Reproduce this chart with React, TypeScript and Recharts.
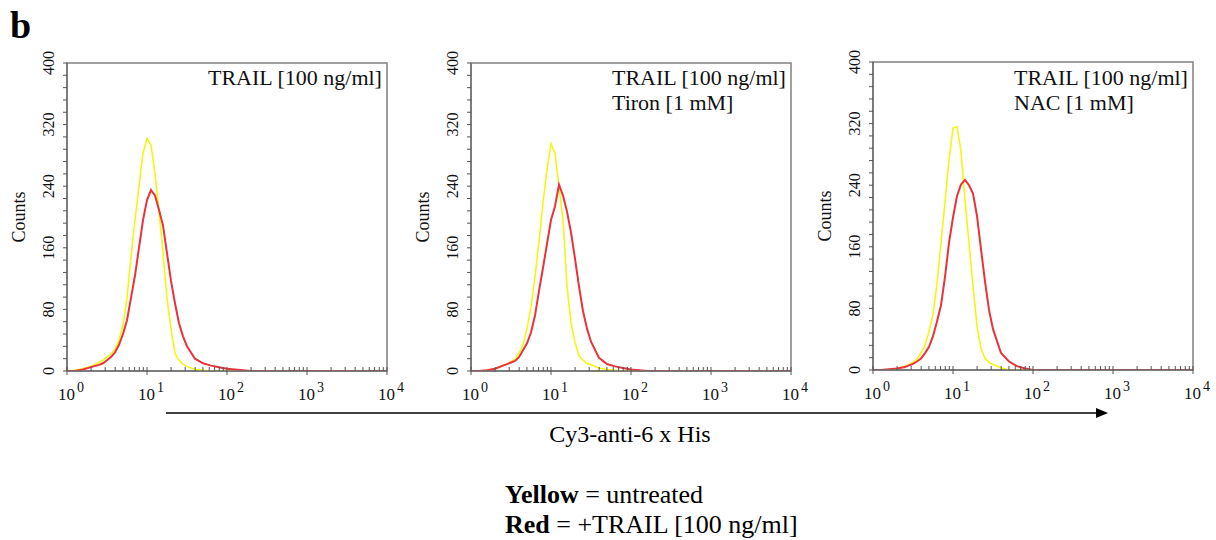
import { LineChart, Line, XAxis, YAxis, ReferenceArea } from "recharts";

// fluorescence channel, in decades (10^0 .. 10^4)
const logFluor = [
  0, 0.1, 0.2, 0.3, 0.4, 0.45, 0.5, 0.55, 0.6, 0.65, 0.7, 0.75, 0.8, 0.85, 0.9, 0.95, 1.0, 1.05,
  1.1, 1.15, 1.2, 1.25, 1.3, 1.35, 1.4, 1.45, 1.5, 1.6, 1.7, 1.8, 1.9, 2.0, 2.1, 2.2, 2.3, 4.0,
];

// panel 1: TRAIL
const untreated1 = [
  0, 1, 3, 6, 11, 14, 18, 22, 28, 40, 60, 95, 148, 196, 239, 283, 302, 293,
  256, 207, 153, 94, 55, 23, 14, 9, 6, 2, 1, 0, 0, 0, 0, 0, 0, 0,
];
const trail1 = [
  0, 0, 2, 5, 8, 10, 14, 18, 24, 34, 48, 66, 95, 124, 160, 196, 222, 235,
  228, 209, 189, 153, 117, 88, 62, 45, 32, 16, 10, 7, 5, 3, 2, 1, 0, 0,
];

// panel 2: TRAIL + Tiron
const untreated2 = [
  0, 0, 1, 3, 7, 9, 12, 15, 23, 34, 55, 83, 122, 168, 218, 262, 295, 283,
  239, 196, 110, 62, 37, 20, 14, 10, 8, 4, 2, 1, 0, 0, 0, 0, 0, 0,
];
const trail2 = [
  0, 0, 1, 3, 7, 9, 11, 13, 18, 27, 36, 50, 72, 104, 134, 165, 196, 214,
  242, 228, 207, 180, 146, 110, 78, 55, 38, 17, 9, 6, 4, 2, 1, 0, 0, 0,
];

// panel 3: TRAIL + NAC
const untreated3 = [
  0, 0, 0, 2, 5, 7, 10, 14, 22, 32, 50, 72, 112, 165, 218, 273, 314, 316,
  284, 220, 165, 110, 57, 28, 15, 10, 7, 3, 0, 0, 0, 0, 0, 0, 0, 0,
];
const trail3 = [
  0, 0, 1, 2, 4, 6, 8, 11, 15, 22, 30, 44, 63, 84, 121, 165, 198, 226,
  241, 247, 240, 229, 200, 157, 115, 78, 53, 22, 11, 5, 2, 0, 0, 0, 0, 0,
];

const panelNotes = [
  ["TRAIL [100 ng/ml]"],
  ["TRAIL [100 ng/ml]", "Tiron [1 mM]"],
  ["TRAIL [100 ng/ml]", "NAC [1 mM]"],
];
const decades = [0, 1, 2, 3, 4];
const countLabels = [0, 80, 160, 240, 320, 400];
const countStep = 16;

const xTicks = [
  ...decades,
  ...decades.slice(0, -1).flatMap((d) => [2, 3, 4, 5, 6, 7, 8, 9].map((k) => d + Math.log10(k))),
];
const yTicks = Array.from({ length: 400 / countStep + 1 }, (_, i) => i * countStep);

const FONT = "'Liberation Serif', 'Times New Roman', serif";
const PLOT_W = 320;
const PLOT_H = 308;
const CHART_W = 400;
const CHART_H = 420;
const Y_AXIS_W = 50;
const X_AXIS_H = 40;

const panels = [
  { left: 67, top: 63, yellow: untreated1, red: trail1 },
  { left: 471, top: 63, yellow: untreated2, red: trail2 },
  { left: 873, top: 62, yellow: untreated3, red: trail3 },
];

function XTick({ x, y, payload }: any) {
  const v = payload.value;
  if (!Number.isInteger(v)) {
    return <line x1={x} x2={x} y1={y} y2={y - 4} stroke="#555" strokeWidth={1} />;
  }
  return (
    <g>
      <line x1={x} x2={x} y1={y - 4} y2={y + 4} stroke="#555" strokeWidth={1} />
      <text x={x - 9} y={y + 29} fontSize={17} fontFamily={FONT} fill="#111">10</text>
      <text x={x + 10} y={y + 21} fontSize={14} fontFamily={FONT} fill="#111">{v}</text>
    </g>
  );
}

function YTick({ x, y, payload }: any) {
  const v = payload.value;
  const major = countLabels.includes(v);
  return (
    <g>
      <line x1={x - 4} x2={x} y1={y} y2={y} stroke="#555" strokeWidth={1} />
      {major && (
        <text
          x={x - 13}
          y={y}
          transform={`rotate(-90, ${x - 13}, ${y})`}
          textAnchor="middle"
          fontSize={16}
          fontFamily={FONT}
          fill="#111"
        >
          {v}
        </text>
      )}
    </g>
  );
}

function Histogram({ left, top, yellow, red }: { left: number; top: number; yellow: number[]; red: number[] }) {
  const data = logFluor.map((x, i) => ({ x, yellow: yellow[i], red: red[i] }));
  const marginLeft = 60 - Y_AXIS_W;
  return (
    <div style={{ position: "absolute", left: left - 60, top: 0 }}>
      <LineChart
        width={CHART_W}
        height={CHART_H}
        data={data}
        margin={{
          top,
          right: CHART_W - 60 - PLOT_W,
          bottom: CHART_H - top - PLOT_H - X_AXIS_H,
          left: marginLeft,
        }}
      >
        <ReferenceArea x1={0} x2={4} y1={0} y2={400} fill="none" stroke="#808080" strokeWidth={1.5} />
        <XAxis
          type="number"
          dataKey="x"
          domain={[0, 4]}
          ticks={xTicks}
          interval={0}
          tickSize={0}
          tickMargin={0}
          tickLine={false}
          tick={(p: any) => <XTick {...p} />}
          height={X_AXIS_H}
          axisLine={{ stroke: "#707070", strokeWidth: 1.5 }}
          allowDataOverflow
        />
        <YAxis
          type="number"
          domain={[0, 400]}
          ticks={yTicks}
          interval={0}
          tickSize={0}
          tickMargin={0}
          tickLine={false}
          tick={(p: any) => <YTick {...p} />}
          width={Y_AXIS_W}
          axisLine={{ stroke: "#707070", strokeWidth: 1.5 }}
          allowDataOverflow
        />
        <Line type="linear" dataKey="yellow" stroke="#f5f515" strokeWidth={1.6} dot={false} isAnimationActive={false} />
        <Line type="linear" dataKey="red" stroke="#e8333a" strokeWidth={2} dot={false} isAnimationActive={false} />
      </LineChart>
    </div>
  );
}

export default function App() {
  return (
    <div
      style={{
        position: "absolute",
        left: 0,
        top: 0,
        width: 1216,
        height: 540,
        background: "#fff",
        fontFamily: FONT,
        overflow: "hidden",
      }}
    >
      {panels.map((p, i) => (
        <Histogram key={i} {...p} />
      ))}
      <svg
        width={1216}
        height={540}
        style={{ position: "absolute", left: 0, top: 0, pointerEvents: "none" }}
        fontFamily={FONT}
      >
        <text x={10} y={38} fontSize={38} fontWeight="bold" fill="#000">b</text>
        {panels.map((p, i) => (
          <g key={i}>
            <text
              x={p.left - 42}
              y={p.top + PLOT_H / 2}
              transform={`rotate(-90, ${p.left - 42}, ${p.top + PLOT_H / 2})`}
              textAnchor="middle"
              fontSize={18}
              fill="#111"
            >
              Counts
            </text>
            {panelNotes[i].map((line, j) => (
              <text key={j} x={p.left + 141} y={85 + j * 25} fontSize={22} fill="#111" style={{ whiteSpace: "pre" }}>
                {line}
              </text>
            ))}
          </g>
        ))}
        <line x1={166} x2={1100} y1={413} y2={413} stroke="#000" strokeWidth={1.5} />
        <polygon points="1108,413 1096,408 1096,418" fill="#000" />
        <text x={630} y={442} textAnchor="middle" fontSize={24} fill="#000">
          Cy3-anti-6 x His
        </text>
        <text x={505} y={503} fontSize={26} fill="#000" style={{ whiteSpace: "pre" }}>
          <tspan fontWeight="bold">Yellow</tspan>
          <tspan> = untreated</tspan>
        </text>
        <text x={505} y={533} fontSize={26} fill="#000" style={{ whiteSpace: "pre" }}>
          <tspan fontWeight="bold">Red</tspan>
          <tspan> = +TRAIL [100 ng/ml]</tspan>
        </text>
      </svg>
    </div>
  );
}
